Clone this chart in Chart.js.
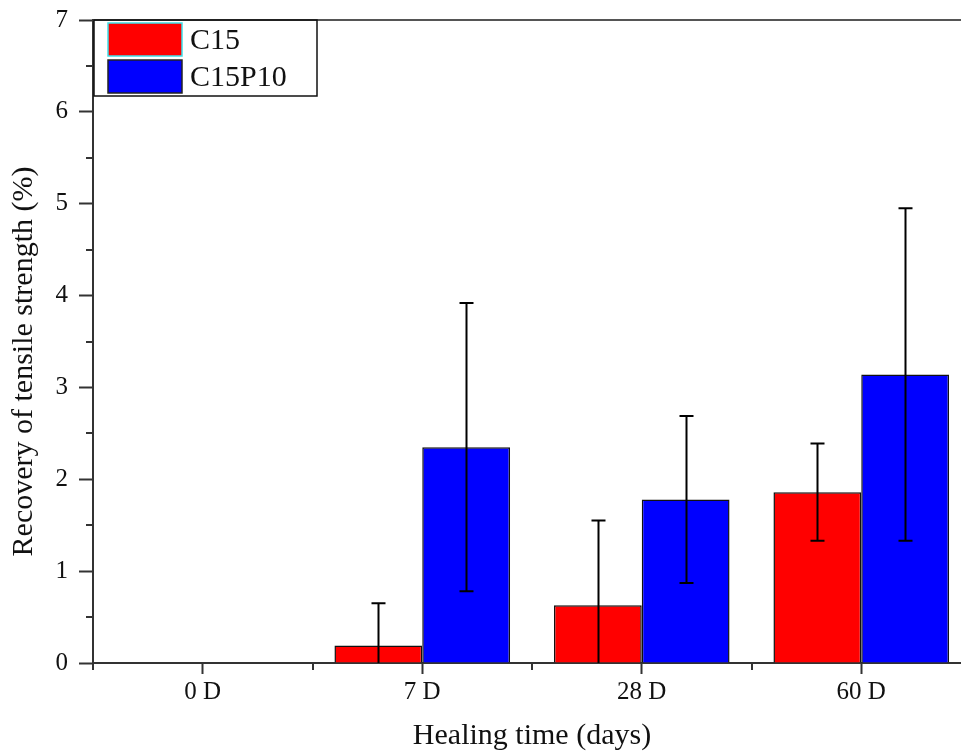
<!DOCTYPE html>
<html>
<head>
<meta charset="utf-8">
<title>Recovery of tensile strength</title>
<script src="https://cdn.jsdelivr.net/npm/chart.js@4.4.1/dist/chart.umd.min.js"></script>
<style>
    html, body { margin: 0; padding: 0; background: #fff; overflow: hidden; }
    canvas { display: block; }
</style>
</head>
<body>
<canvas id="recoveryChart" width="985" height="753"></canvas>
<script>
// ========== DATA ==========
const categories = ["0 D", "7 D", "28 D", "60 D"];
const c15Values = [0, 0.19, 0.63, 1.86];
const c15Errors = [0, 0.46, 0.92, 0.53];
const c15p10Values = [0, 2.35, 1.78, 3.14];
const c15p10Errors = [0, 1.57, 0.91, 1.81];

const yMin = 0;
const yMax = 7;
const yStep = 1;
const yMinorStep = 0.5;

const xTitle = "Healing time (days)";
const yTitle = "Recovery of tensile strength (%)";

// ========== STYLE ==========
const serif = "'Liberation Serif', 'Times New Roman', serif";
const axisColor = "#333";
const textColor = "#111";

// ========== PLUGINS ==========
// error bars (mean +/- sd), clipped to the plot area
const errorBars = {
    id: "errorBars",
    afterDatasetsDraw(chart) {
        const ctx = chart.ctx;
        const yScale = chart.scales.y;
        const area = chart.chartArea;
        ctx.save();
        ctx.beginPath();
        ctx.rect(area.left, area.top, area.right - area.left, area.bottom - area.top);
        ctx.clip();
        ctx.strokeStyle = "#000";
        ctx.lineWidth = 2;
        chart.data.datasets.forEach((ds, di) => {
            const meta = chart.getDatasetMeta(di);
            meta.data.forEach((bar, i) => {
                const sd = ds.errors[i];
                if (!sd) return;
                const v = ds.data[i];
                const top = yScale.getPixelForValue(v + sd);
                const bottom = yScale.getPixelForValue(v - sd);
                const x = Math.round(bar.x) + 0.5;
                ctx.beginPath();
                ctx.moveTo(x, top);
                ctx.lineTo(x, bottom);
                ctx.moveTo(x - 7, top);
                ctx.lineTo(x + 7, top);
                ctx.moveTo(x - 7, bottom);
                ctx.lineTo(x + 7, bottom);
                ctx.stroke();
            });
        });
        ctx.restore();
    }
};

// top frame line, minor ticks, axis titles and boxed legend
const frameAndLabels = {
    id: "frameAndLabels",
    afterDraw(chart) {
        const ctx = chart.ctx;
        const area = chart.chartArea;
        const x = chart.scales.x;
        const y = chart.scales.y;
        ctx.save();

        // top frame
        ctx.strokeStyle = "#555";
        ctx.lineWidth = 2;
        ctx.beginPath();
        ctx.moveTo(area.left, area.top);
        ctx.lineTo(chart.width, area.top);
        ctx.stroke();

        // minor ticks
        ctx.strokeStyle = axisColor;
        ctx.beginPath();
        for (let v = yMin + yMinorStep; v < yMax; v += yStep) {
            const py = Math.round(y.getPixelForValue(v));
            ctx.moveTo(area.left - 7, py);
            ctx.lineTo(area.left, py);
        }
        for (let i = 0; i <= categories.length; i++) {
            const px = Math.round(x.getPixelForValue(i - 0.5));
            ctx.moveTo(px, area.bottom);
            ctx.lineTo(px, area.bottom + 7);
        }
        ctx.stroke();

        // axis titles
        ctx.fillStyle = textColor;
        ctx.font = "30px " + serif;
        ctx.textAlign = "center";
        ctx.textBaseline = "middle";
        ctx.fillText(xTitle, (area.left + area.right) / 2, 736);
        ctx.save();
        ctx.translate(24, (area.top + area.bottom) / 2 + 20);
        ctx.rotate(-Math.PI / 2);
        ctx.fillText(yTitle, 0, 0);
        ctx.restore();

        // legend
        const boxLeft = area.left + 1;
        const boxTop = area.top;
        ctx.strokeStyle = "#111";
        ctx.lineWidth = 1.5;
        ctx.strokeRect(boxLeft, boxTop, 223, 76);
        ctx.font = "30px " + serif;
        ctx.textAlign = "left";
        chart.data.datasets.forEach((ds, i) => {
            const sy = boxTop + 3 + i * 37;
            ctx.fillStyle = ds.backgroundColor;
            ctx.fillRect(boxLeft + 14, sy, 74, 33);
            ctx.strokeStyle = ds.legendBorder;
            ctx.lineWidth = 1.5;
            ctx.strokeRect(boxLeft + 14, sy, 74, 33);
            ctx.fillStyle = textColor;
            ctx.fillText(ds.label, boxLeft + 96, sy + 18);
        });

        ctx.restore();
    }
};

// ========== CHART ==========
const ctx = document.getElementById("recoveryChart").getContext("2d");

new Chart(ctx, {
    type: "bar",
    data: {
        labels: categories,
        datasets: [{
                label: "C15",
                data: c15Values,
                errors: c15Errors,
                backgroundColor: "#ff0000",
                borderColor: "#111",
                borderWidth: 1.5,
                legendBorder: "#3ee0e8"
            },
            {
                label: "C15P10",
                data: c15p10Values,
                errors: c15p10Errors,
                backgroundColor: "#0000ff",
                borderColor: "#111",
                borderWidth: 1.5,
                legendBorder: "#222"
            }
        ]
    },
    options: {
        responsive: false,
        animation: false,
        layout: { padding: { left: 0, top: 20, right: 14, bottom: 0 } },
        datasets: { bar: { categoryPercentage: 0.8, barPercentage: 1.0 } },
        plugins: {
            legend: { display: false },
            tooltip: { enabled: false }
        },
        scales: {
            x: {
                offset: true,
                grid: {
                    offset: false,
                    drawOnChartArea: false,
                    tickLength: 11,
                    tickWidth: 2,
                    tickColor: axisColor
                },
                border: { color: axisColor, width: 2 },
                ticks: {
                    color: textColor,
                    font: { family: serif, size: 25 },
                    padding: 3,
                    maxRotation: 0
                },
                afterFit: (scale) => {
                    scale.height = 90;
                    scale.paddingLeft = 0;
                    scale.paddingRight = 0;
                }
            },
            y: {
                min: yMin,
                max: yMax,
                grid: {
                    drawOnChartArea: false,
                    tickLength: 14,
                    tickWidth: 2,
                    tickColor: axisColor
                },
                border: { color: axisColor, width: 2 },
                ticks: {
                    stepSize: yStep,
                    color: textColor,
                    font: { family: serif, size: 25 },
                    padding: 11
                },
                afterFit: (scale) => {
                    scale.width = 93;
                    scale.paddingTop = 0;
                    scale.paddingBottom = 0;
                }
            }
        }
    },
    plugins: [errorBars, frameAndLabels]
});
</script>
</body>
</html>
